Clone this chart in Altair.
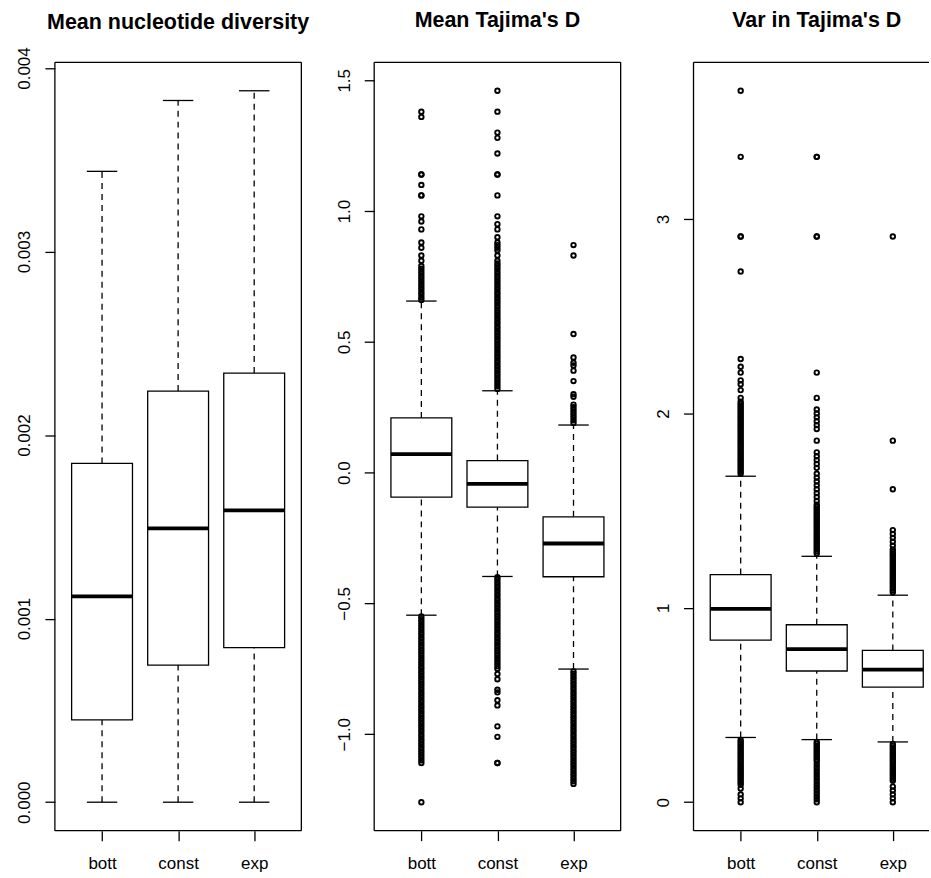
import altair as alt
import pandas as pd

cats = ["bott", "const", "exp"]

# ---- Panel 1: Mean nucleotide diversity (box stats) ----
pi_lo = [0.0, 0.0, 0.0]
pi_q1 = [0.000448, 0.000747, 0.000842]
pi_med = [0.001121, 0.001492, 0.001590]
pi_q3 = [0.001846, 0.002240, 0.002338]
pi_hi = [0.003437, 0.003823, 0.003876]
pi_out = [[], [], []]

# ---- Panel 2: Mean Tajima's D ----
td_lo = [-0.545, -0.397, -0.751]
td_q1 = [-0.094, -0.132, -0.398]
td_med = [0.071, -0.043, -0.271]
td_q3 = [0.209, 0.046, -0.169]
td_hi = [0.656, 0.313, 0.182]
td_out_bott = [1.38, 1.36, 1.14, 1.14, 1.10, 1.06, 1.06, 0.98, 0.96, 0.93, 0.88, 0.86,
               0.83, 0.81, 0.79, 0.78, 0.77, 0.76, 0.75, 0.74, 0.73, 0.72, 0.71, 0.70,
               0.69, 0.68, 0.67, 0.66,
               -0.55, -0.56, -0.57, -0.58, -0.59, -0.60, -0.61, -0.62, -0.63, -0.64,
               -0.65, -0.66, -0.67, -0.68, -0.69, -0.70, -0.71, -0.72, -0.73, -0.74,
               -0.75, -0.76, -0.77, -0.78, -0.79, -0.80, -0.81, -0.82, -0.83, -0.84,
               -0.85, -0.86, -0.87, -0.88, -0.89, -0.90, -0.91, -0.92, -0.93, -0.94,
               -0.95, -0.96, -0.97, -0.98, -0.99, -1.00, -1.01, -1.02, -1.03, -1.04,
               -1.05, -1.06, -1.07, -1.08, -1.09, -1.10, -1.11, -1.26]
td_out_const = [1.46, 1.38, 1.30, 1.28, 1.22, 1.14, 1.14, 1.06, 0.98, 0.95, 0.93, 0.90,
                0.88, 0.87, 0.86, 0.85, 0.83, 0.81, 0.80, 0.79, 0.78, 0.77, 0.76, 0.75,
                0.74, 0.73, 0.72, 0.71, 0.70, 0.69, 0.68, 0.67, 0.66, 0.65, 0.64, 0.63,
                0.62, 0.61, 0.60, 0.59, 0.58, 0.57, 0.56, 0.55, 0.54, 0.53, 0.52, 0.51,
                0.50, 0.49, 0.48, 0.47, 0.46, 0.45, 0.44, 0.43, 0.42, 0.41, 0.40, 0.39,
                0.38, 0.37, 0.36, 0.35, 0.34, 0.33, 0.32,
                -0.40, -0.41, -0.42, -0.43, -0.44, -0.45, -0.46, -0.47, -0.48, -0.49,
                -0.50, -0.51, -0.52, -0.53, -0.54, -0.55, -0.56, -0.57, -0.58, -0.59,
                -0.60, -0.61, -0.62, -0.63, -0.64, -0.65, -0.66, -0.67, -0.68, -0.69,
                -0.70, -0.71, -0.72, -0.73, -0.74, -0.75, -0.77, -0.79, -0.83, -0.84,
                -0.87, -0.89, -0.97, -1.01, -1.11, -1.11]
td_out_exp = [0.87, 0.83, 0.53, 0.44, 0.42, 0.41, 0.39, 0.35, 0.30, 0.29, 0.26, 0.25,
              0.24, 0.23, 0.22, 0.21, 0.20, 0.19,
              -0.76, -0.77, -0.78, -0.79, -0.80, -0.81, -0.82, -0.83, -0.84, -0.85,
              -0.86, -0.87, -0.88, -0.89, -0.90, -0.91, -0.92, -0.93, -0.94, -0.95,
              -0.96, -0.97, -0.98, -0.99, -1.00, -1.01, -1.02, -1.03, -1.04, -1.05,
              -1.06, -1.07, -1.08, -1.09, -1.10, -1.11, -1.12, -1.13, -1.14, -1.15,
              -1.16, -1.17, -1.18, -1.19]
td_out = [td_out_bott, td_out_const, td_out_exp]

# ---- Panel 3: Var in Tajima's D ----
tv_lo = [0.333, 0.322, 0.310]
tv_q1 = [0.834, 0.675, 0.592]
tv_med = [0.995, 0.787, 0.682]
tv_q3 = [1.171, 0.913, 0.781]
tv_hi = [1.677, 1.265, 1.065]
tv_out_bott = [3.66, 3.32, 2.91, 2.91, 2.73, 2.28, 2.24, 2.21, 2.17, 2.15, 2.12, 2.08,
               2.06, 2.05, 2.04, 2.03, 2.02, 2.01, 2.00, 1.99, 1.98, 1.97, 1.96, 1.95,
               1.94, 1.93, 1.92, 1.91, 1.90, 1.89, 1.88, 1.87, 1.86, 1.85, 1.84, 1.83,
               1.82, 1.81, 1.80, 1.79, 1.78, 1.77, 1.76, 1.75, 1.74, 1.73, 1.72, 1.71,
               1.70, 1.69,
               0.32, 0.31, 0.30, 0.29, 0.28, 0.27, 0.26, 0.25, 0.24, 0.23, 0.22, 0.21,
               0.20, 0.19, 0.18, 0.17, 0.16, 0.15, 0.14, 0.13, 0.12, 0.11, 0.10, 0.09,
               0.07, 0.04, 0.02, 0.0]
tv_out_const = [3.32, 3.32, 2.91, 2.91, 2.21, 2.08, 2.02, 2.00, 1.98, 1.96, 1.94, 1.92,
                1.86, 1.80, 1.78, 1.76, 1.74, 1.72, 1.69, 1.67, 1.65, 1.63, 1.61, 1.59,
                1.57, 1.55, 1.53, 1.52, 1.51, 1.50, 1.49, 1.48, 1.47, 1.46, 1.45, 1.44,
                1.43, 1.42, 1.41, 1.40, 1.39, 1.38, 1.37, 1.36, 1.35, 1.34, 1.33, 1.32,
                1.31, 1.30, 1.29, 1.28,
                0.31, 0.30, 0.29, 0.28, 0.27, 0.26, 0.25, 0.24, 0.23, 0.22, 0.21, 0.195,
                0.18, 0.165, 0.15, 0.135, 0.12, 0.105, 0.09, 0.075, 0.06, 0.045, 0.03,
                0.015, 0.0]
tv_out_exp = [2.91, 1.86, 1.61, 1.40, 1.38, 1.36, 1.34, 1.32, 1.30, 1.29, 1.28, 1.27,
              1.26, 1.25, 1.24, 1.23, 1.22, 1.21, 1.20, 1.19, 1.18, 1.17, 1.16, 1.15,
              1.14, 1.13, 1.12, 1.11, 1.10, 1.09, 1.08,
              0.30, 0.29, 0.28, 0.27, 0.26, 0.25, 0.24, 0.23, 0.22, 0.21, 0.20, 0.19,
              0.18, 0.17, 0.16, 0.15, 0.14, 0.13, 0.12, 0.11, 0.08, 0.06, 0.04, 0.02, 0.0]
tv_out = [tv_out_bott, tv_out_const, tv_out_exp]

FONT = "Liberation Sans"
W = 247
H = 770
LW = 1.3

label_expr = "[" + ",".join("'%s'" % c for c in cats) + "][datum.value - 1]"


def panel(title, lo, q1, med, q3, hi, outs, ticks, fmt, width, title_offset,
          title_dx=0, right_edge=True):
    n = len(cats)
    idx = list(range(1, n + 1))
    allv = lo + hi + [v for o in outs for v in o]
    vmin, vmax = min(allv), max(allv)
    ext = 0.04 * (vmax - vmin)
    ydom = [vmin - ext, vmax + ext]
    xlo = 0.5 - 0.04 * n
    px_per_unit = W / (n + 0.08 * n)
    xmax = xlo + width / px_per_unit

    box = pd.DataFrame({"i": idx, "lo": lo, "q1": q1, "med": med, "q3": q3, "hi": hi})
    box["xl"] = box["i"] - 0.4
    box["xr"] = box["i"] + 0.4
    box["sl"] = box["i"] - 0.2
    box["sr"] = box["i"] + 0.2
    orows = []
    for i, o in zip(idx, outs):
        for v in o:
            orows.append({"i": i, "v": v})

    xs = alt.Scale(domain=[xlo, xmax], nice=False, zero=False)
    ys = alt.Scale(domain=ydom, nice=False, zero=False)
    xax = alt.Axis(values=idx, labelExpr=label_expr, title=None, grid=False, domain=False,
                   tickSize=10, tickColor="black", tickWidth=LW, labelColor="black",
                   labelFont=FONT, labelFontSize=17, labelPadding=15, labelFlush=False,
                   labelOverlap=False)
    yax = alt.Axis(values=ticks, format=fmt, title=None, grid=False, domain=False,
                   tickSize=10, tickColor="black", tickWidth=LW, labelColor="black",
                   labelFont=FONT, labelFontSize=17, labelPadding=15, labelAngle=-90,
                   labelAlign="center", labelBaseline="alphabetic", labelFlush=False,
                   labelOverlap=False)

    def X(f):
        return alt.X(f + ":Q", scale=xs, axis=xax)

    def Y(f):
        return alt.Y(f + ":Q", scale=ys, axis=yax)

    base = alt.Chart(box)
    layers = [
        base.mark_rule(color="black", strokeWidth=LW, strokeDash=[6, 5]).encode(
            x=X("i"), y=Y("q3"), y2="hi"),
        base.mark_rule(color="black", strokeWidth=LW, strokeDash=[6, 5]).encode(
            x=X("i"), y=Y("lo"), y2="q1"),
        base.mark_rule(color="black", strokeWidth=LW).encode(x=X("sl"), x2="sr", y=Y("hi")),
        base.mark_rule(color="black", strokeWidth=LW).encode(x=X("sl"), x2="sr", y=Y("lo")),
        base.mark_rect(fill="white", stroke="black", strokeWidth=LW).encode(
            x=X("xl"), x2="xr", y=Y("q1"), y2="q3"),
        base.mark_rule(color="black", strokeWidth=3.8).encode(x=X("xl"), x2="xr", y=Y("med")),
    ]
    if orows:
        layers.append(
            alt.Chart(pd.DataFrame(orows)).mark_point(
                shape="circle", filled=False, color="black",
                size=20, strokeWidth=1.9, opacity=1).encode(x=X("i"), y=Y("v")))
    one = alt.Chart(pd.DataFrame({"k": [0]}))
    layers += [
        one.mark_rule(color="black", strokeWidth=LW).encode(
            x=alt.value(0), x2=alt.value(width), y=alt.value(0)),
        one.mark_rule(color="black", strokeWidth=LW).encode(
            x=alt.value(0), x2=alt.value(width), y=alt.value(H)),
        one.mark_rule(color="black", strokeWidth=LW).encode(
            x=alt.value(0), y=alt.value(0), y2=alt.value(H)),
    ]
    if right_edge:
        layers.append(one.mark_rule(color="black", strokeWidth=LW).encode(
            x=alt.value(width), y=alt.value(0), y2=alt.value(H)))
    tp = dict(text=title, fontSize=21.5, fontWeight="bold", font=FONT, color="black",
              baseline="alphabetic", offset=title_offset, anchor="middle", frame="group")
    if title_dx:
        tp["dx"] = title_dx
    return alt.layer(*layers).properties(width=width, height=H, title=alt.TitleParams(**tp))


p1 = panel("Mean nucleotide diversity", pi_lo, pi_q1, pi_med, pi_q3, pi_hi, pi_out,
           [0.0, 0.001, 0.002, 0.003, 0.004], ".3f", W, title_offset=-4)
p2 = panel("Mean Tajima's D", td_lo, td_q1, td_med, td_q3, td_hi, td_out,
           [-1.0, -0.5, 0.0, 0.5, 1.0, 1.5], ".1f", W, title_offset=13)
p3 = panel("Var in Tajima's D", tv_lo, tv_q1, tv_med, tv_q3, tv_hi, tv_out,
           [0, 1, 2, 3], "d", 236, title_offset=13, title_dx=5.5, right_edge=False)

chart = alt.hconcat(p1, p2, p3, spacing=73, bounds="flush").properties(
    padding={"left": 15, "top": 8.5, "right": 0, "bottom": 0},
    background="white",
).configure_view(stroke="transparent")

chart.save("out.html", embed_options={"renderer": "svg", "actions": False})
